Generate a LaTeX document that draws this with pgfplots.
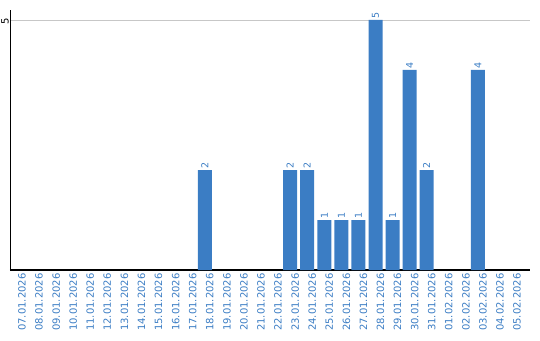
\documentclass[border=0pt]{standalone}
\usepackage{pgfplots}
\pgfplotsset{compat=1.18}
\usepackage{fontspec}
\setmainfont{DejaVu Sans}
\definecolor{barblue}{HTML}{3B7DC4}
\begin{document}
\begin{tikzpicture}
\begin{axis}[
  name=ax,
  scale only axis, width=520pt, height=260pt,
  xmin=-0.41, xmax=30.05, ymin=0, ymax=5.2,
  axis x line*=bottom, axis y line*=left,
  axis line style={-},
  x axis line style={line width=1.2pt},
  y axis line style={line width=0.9pt},
  xtick={0,...,29},
  xticklabels={07.01.2026,08.01.2026,09.01.2026,10.01.2026,11.01.2026,12.01.2026,13.01.2026,14.01.2026,15.01.2026,16.01.2026,17.01.2026,18.01.2026,19.01.2026,20.01.2026,21.01.2026,22.01.2026,23.01.2026,24.01.2026,25.01.2026,26.01.2026,27.01.2026,28.01.2026,29.01.2026,30.01.2026,31.01.2026,01.02.2026,02.02.2026,03.02.2026,04.02.2026,05.02.2026},
  ytick={5},
  ymajorgrids, xmajorgrids=false,
  major grid style={color=black!22, line width=0.9pt},
  major tick length=0pt,
  /pgf/number format/assume math mode=true,
  ticklabel style={font=\fontsize{10}{10}\selectfont},
  xticklabel style={rotate=90, anchor=east, text=barblue, yshift=-5pt},
  yticklabel style={rotate=90, anchor=south, text=black, inner sep=1pt, xshift=-1pt},
  clip=false,
]
\addplot[ybar, bar width=14pt, fill=barblue, draw=none,
  nodes near coords,
  every node near coord/.append style={rotate=90, anchor=west, text=barblue, inner sep=1.5pt, font=\fontsize{9.5}{10}\selectfont}]
  coordinates {(11,2) (16,2) (17,2) (18,1) (19,1) (20,1) (21,5) (22,1) (23,4) (24,2) (27,4)};
\end{axis}
\pgfresetboundingbox
\path[use as bounding box] ([shift={(-10pt,-70pt)}]ax.south west) rectangle ([shift={(530pt,270pt)}]ax.south west);
\end{tikzpicture}
\end{document}
